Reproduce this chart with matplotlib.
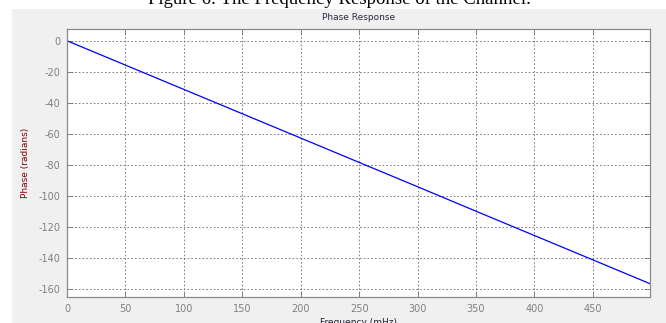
import matplotlib
matplotlib.use("Agg")
import matplotlib.pyplot as plt
from matplotlib.patches import Rectangle

# values
freq = [0, 50, 100, 150, 200, 250, 300, 350, 400, 450, 499]
phase = [0, -15.7, -31.4, -47.1, -62.8, -78.5, -94.2, -110.0, -125.7, -141.4, -156.8]
xticks = [0, 50, 100, 150, 200, 250, 300, 350, 400, 450]
yticks = [0, -20, -40, -60, -80, -100, -120, -140, -160]

plt.rcParams["axes.unicode_minus"] = False

W, H = 666, 323
fig = plt.figure(figsize=(W / 100, H / 100), dpi=100, facecolor="white")

# gray matlab figure panel below the caption
fig.patches.append(Rectangle((12 / W, 0), 1 - 12 / W, 1 - 9 / H, transform=fig.transFigure,
                             facecolor="#f0f0f0", edgecolor="none", zorder=-1))

# caption, top cut off like in the scan
fig.text(0.51, 1 - 4 / H, "Figure 6: The Frequency Response of the Channel.", ha="center", va="baseline",
         fontsize=13.5, family="Liberation Serif", color="black")

ax = fig.add_axes([67 / W, 1 - 296.7 / H, (650 - 67) / W, (296.7 - 29.3) / H])
ax.set_facecolor("white")
ax.plot(freq, phase, color="#0000ff", lw=0.9)

ax.set_xlim(0, 499)
ax.set_ylim(-165.2, 7.4)
ax.set_xticks(xticks)
ax.set_yticks(yticks)
ax.grid(True, color="#6a6a6a", linestyle=(0, (2, 2.5)), linewidth=0.6)
ax.tick_params(direction="in", top=True, right=True, length=4, width=0.7, color="#808080",
               labelsize=7, labelcolor="#808080", pad=5)
for s in ax.spines.values():
    s.set_color("#8a8a8a")
    s.set_linewidth(0.9)

ax.set_title("Phase Response", fontsize=6.5, color="#2a2a40", pad=7)
ax.set_xlabel("Frequency (mHz)", fontsize=6.5, color="#202030", labelpad=3)
ax.set_ylabel("Phase (radians)", fontsize=6.5, color="#800000", labelpad=6)

fig.savefig("out.png", dpi=100)
